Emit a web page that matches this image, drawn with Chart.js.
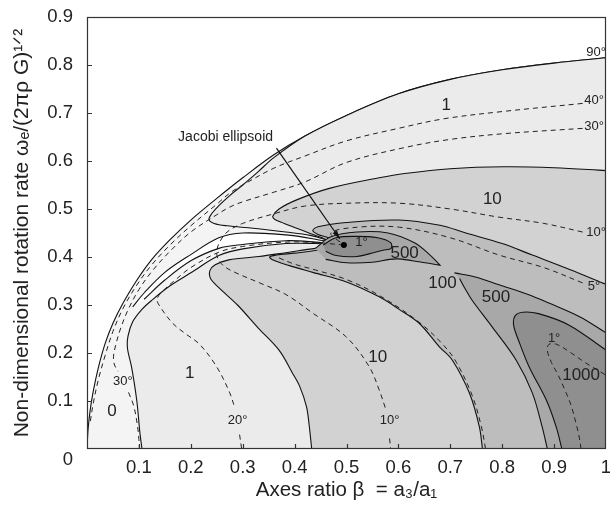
<!DOCTYPE html>
<html><head><meta charset="utf-8">
<script src="https://cdn.jsdelivr.net/npm/chart.js@4"></script>
<style>html,body{margin:0;padding:0;background:#fff}</style>
</head><body>
<canvas id="c" width="610" height="512"></canvas>
<script>
// ---------- data (beta = a3/a1, omega) ----------
const J = [0.495, 0.425];
const T = [0.088, 0.296];
const outerCurve = [[0,0],[0.002,0.04],[0.006,0.08],[0.012,0.12],[0.022,0.17],[0.035,0.22],[0.05,0.262],[0.07,0.305],[0.095,0.35],[0.125,0.395],[0.16,0.436],[0.2,0.477],[0.25,0.522],[0.3,0.565],[0.36,0.613],[0.42,0.652],[0.5,0.695],[0.6,0.74],[0.7,0.77],[0.8,0.79],[0.9,0.804],[1,0.815]];
const contour1Low = [[0.106,0],[0.106,0],[0.102,0.033],[0.096,0.1],[0.086,0.17],[0.078,0.21],[0.079,0.235],[0.088,0.265],[0.105,0.29],[0.125,0.31],[0.16,0.34],[0.2,0.367],[0.254,0.403],[0.3,0.417],[0.383,0.428],[0.44,0.428],J,J];
const contour1Up = [[0.46,0.436],[0.43,0.445],[0.383,0.452],[0.32,0.46],[0.27,0.465],[0.245,0.47],[0.235,0.478],[0.24,0.49],[0.255,0.508],[0.275,0.528],[0.3,0.55],[0.33,0.578],[0.36,0.607],[0.42,0.652],[0.5,0.695],[0.6,0.74],[0.7,0.77],[0.8,0.79],[0.9,0.804],[1,0.815],[1,0.815],[1,0],[1,0]];
const wedge = [T,T,[0.11,0.325],[0.15,0.368],[0.2,0.405],[0.254,0.44],[0.3,0.45],[0.383,0.446],[0.44,0.437],J,J,[0.44,0.431],[0.383,0.434],[0.3,0.426],[0.254,0.418],[0.2,0.392],[0.15,0.352],[0.11,0.312]];
const contour10Low = [[0.433,0],[0.433,0],[0.428,0.05],[0.423,0.088],[0.41,0.13],[0.396,0.158],[0.37,0.206],[0.33,0.252],[0.29,0.3],[0.255,0.335],[0.238,0.355],[0.237,0.372],[0.247,0.384],[0.273,0.394],[0.331,0.401],[0.383,0.409],[0.44,0.418],J,J];
const contour10Up = [[0.47,0.433],[0.45,0.441],[0.43,0.449],[0.404,0.46],[0.38,0.47],[0.362,0.478],[0.358,0.485],[0.37,0.5],[0.404,0.519],[0.467,0.543],[0.563,0.565],[0.612,0.574],[0.7,0.584],[0.804,0.588],[0.9,0.586],[1,0.58],[1,0.58],[1,0],[1,0]];
const contour100 = [[0.762,0],[0.762,0],[0.756,0.046],[0.737,0.116],[0.704,0.185],[0.679,0.213],[0.64,0.262],[0.6,0.292],[0.563,0.317],[0.5,0.348],[0.435,0.368],[0.39,0.382],[0.36,0.393],[0.352,0.4],[0.365,0.404],[0.4,0.408],[0.45,0.415],J,J,[0.465,0.44],[0.445,0.447],[0.435,0.455],[0.445,0.463],[0.5,0.472],[0.6,0.477],[0.68,0.466],[0.73,0.45],[0.8,0.428],[0.858,0.404],[0.93,0.374],[1,0.343],[1,0.343],[1,0],[1,0]];
const contour500a = [[0.44,0.418],[0.47,0.442],[0.52,0.452],[0.58,0.45],[0.63,0.43],[0.66,0.405],[0.68,0.383],[0.68,0.383],[0.64,0.39],[0.6,0.396],[0.583,0.395],[0.55,0.389],[0.5,0.388],[0.46,0.395]];
const contour1000a = [[0.455,0.425],[0.48,0.44],[0.52,0.443],[0.56,0.44],[0.585,0.43],[0.586,0.418],[0.57,0.414],[0.555,0.41],[0.52,0.401],[0.48,0.403],[0.46,0.412]];
const contour500b = [[0.708,0.367],[0.708,0.367],[0.75,0.358],[0.794,0.342],[0.85,0.322],[0.89,0.304],[0.95,0.275],[1,0.242],[1,0.242],[1,0],[1,0],[0.887,0],[0.887,0],[0.877,0.046],[0.858,0.117],[0.827,0.185],[0.781,0.254],[0.742,0.31],[0.728,0.335],[0.718,0.355]];
const contour1000b = [[0.915,0],[0.915,0],[0.904,0.046],[0.885,0.102],[0.852,0.171],[0.832,0.225],[0.822,0.258],[0.825,0.278],[0.84,0.285],[0.87,0.282],[0.929,0.258],[1,0.206],[1,0.206],[1,0],[1,0]];
// dashed angle contours
const angle40 = [[0.955,0.72],[0.8,0.703],[0.688,0.688],[0.6,0.668],[0.5,0.642],[0.419,0.61],[0.36,0.585],[0.3,0.55],[0.275,0.533],[0.25,0.51],[0.2,0.465],[0.16,0.425],[0.125,0.384],[0.095,0.34],[0.07,0.294],[0.05,0.245],[0.035,0.195],[0.022,0.145],[0.012,0.095],[0.006,0.055]];
const angle30a = [[0.955,0.668],[0.804,0.657],[0.7,0.645],[0.612,0.628],[0.5,0.597],[0.419,0.556],[0.36,0.535],[0.3,0.515],[0.275,0.504],[0.25,0.488],[0.2,0.452],[0.16,0.412],[0.125,0.37],[0.1,0.332],[0.08,0.292],[0.065,0.252],[0.055,0.215],[0.051,0.192],[0.053,0.175],[0.06,0.162]];
const angle30b = [[0.08,0.118],[0.09,0.09],[0.097,0.05],[0.1,0.02],[0.101,0]];
const angle20a = [J,[0.44,0.43],[0.383,0.431],[0.3,0.422],[0.254,0.41],[0.2,0.378],[0.17,0.352],[0.145,0.328],[0.135,0.312],[0.14,0.298],[0.165,0.262],[0.19,0.24],[0.217,0.218],[0.25,0.171],[0.275,0.117],[0.285,0.085]];
const angle20b = [[0.294,0.03],[0.298,0]];
const angle10a = [[0.955,0.452],[0.88,0.47],[0.794,0.483],[0.7,0.5],[0.602,0.512],[0.5,0.512],[0.419,0.506],[0.36,0.49],[0.3,0.47],[0.27,0.452],[0.255,0.43],[0.25,0.41],[0.253,0.395],[0.265,0.38],[0.287,0.367],[0.335,0.345],[0.383,0.322],[0.435,0.283],[0.5,0.233],[0.544,0.171],[0.563,0.123],[0.575,0.085]];
const angle10b = [[0.583,0.022],[0.585,0]];
const angle5a = [[0.955,0.346],[0.88,0.378],[0.794,0.404],[0.7,0.44],[0.602,0.462],[0.52,0.462],[0.47,0.45],J];
const angle5b = [[0.37,0.398],[0.4,0.385],[0.44,0.373],[0.5,0.353],[0.563,0.32],[0.64,0.264],[0.688,0.215],[0.712,0.18],[0.742,0.112],[0.76,0.046],[0.768,0]];
const angle1 = [[0.998,0.155],[0.96,0.18],[0.933,0.2],[0.905,0.218],[0.89,0.218],[0.887,0.205],[0.895,0.18],[0.906,0.158],[0.92,0.125],[0.933,0.09],[0.943,0.05],[0.948,0.027],[0.952,0]];
const arrowLine = [[0.365,0.627],[0.487,0.438]];
// labels
const regionLabels = [['0',0.048,0.079],['1',0.198,0.158],['10',0.56,0.19],['100',0.685,0.346],['500',0.788,0.315],['1000',0.952,0.154],['500',0.612,0.408],['10',0.781,0.52],['1',0.692,0.717]];
const angleLabels = [['90°',0.981,0.827],['40°',0.977,0.727],['30°',0.977,0.671],['10°',0.981,0.452],['5°',0.977,0.338],['1°',0.9,0.231],['1°',0.529,0.43],['20°',0.29,0.06],['10°',0.583,0.06],['30°',0.069,0.14]];
const xTickLabels = ['', '0.1','0.2','0.3','0.4','0.5','0.6','0.7','0.8','0.9','1'];
const yTickLabels = ['0','0.1','0.2','0.3','0.4','0.5','0.6','0.7','0.8','0.9'];

// ---------- colours ----------
const C0='#f4f4f4', C1='#ebebeb', C10='#d2d2d2', C100='#bdbdbd', C500='#a8a8a8', C1000='#8f8f8f';

const pts = a => a.map(p => ({x:p[0], y:p[1]}));
const paint = [];
function region(arr, color){ paint.push({data:pts(arr), showLine:true, fill:'shape', backgroundColor:color, borderColor:'#111', borderWidth:1.1, pointRadius:0, tension:0.35}); }
function dashed(arr){ paint.push({data:pts(arr), showLine:true, fill:false, borderColor:'#222', borderWidth:1, borderDash:[5,4], pointRadius:0, tension:0.35}); }
region([...outerCurve, [1,0.815],[1,0],[1,0]], C0);
region([...contour1Low, ...contour1Up], C1);
region(wedge, '#ffffff');
region([...contour10Low, ...contour10Up], C10);
region(contour100, C100);
region(contour500a, C500);
region(contour1000a, C1000);
region(contour500b, C500);
region(contour1000b, C1000);
[angle40, angle30a, angle30b, angle20a, angle20b, angle10a, angle10b, angle5a, angle5b, angle1].forEach(dashed);
paint.push({data:pts(arrowLine), showLine:true, fill:false, borderColor:'#111', borderWidth:1.2, pointRadius:0, tension:0});
paint.push({data:pts([J]), showLine:false, pointRadius:3, pointBackgroundColor:'#000', pointBorderWidth:0});
paint.forEach((d,i)=>{ d.order = paint.length - i; });

const FONT = 'Liberation Sans, Arial, sans-serif';
const overlay = {
  id:'overlay',
  afterDatasetsDraw(chart){
    const {ctx, chartArea:a, scales:{x,y}} = chart;
    ctx.save();
    // arrow head
    const x1=x.getPixelForValue(arrowLine[0][0]), y1=y.getPixelForValue(arrowLine[0][1]);
    const x2=x.getPixelForValue(arrowLine[1][0]), y2=y.getPixelForValue(arrowLine[1][1]);
    const ang=Math.atan2(y2-y1,x2-x1);
    ctx.fillStyle='#111';
    ctx.beginPath(); ctx.moveTo(x2,y2);
    ctx.lineTo(x2-9*Math.cos(ang-0.3), y2-9*Math.sin(ang-0.3));
    ctx.lineTo(x2-9*Math.cos(ang+0.3), y2-9*Math.sin(ang+0.3));
    ctx.closePath(); ctx.fill();
    // labels
    ctx.textAlign='center'; ctx.textBaseline='middle';
    ctx.fillStyle='#222';
    ctx.font='17px '+FONT;
    regionLabels.forEach(([t,b,w])=>ctx.fillText(t, x.getPixelForValue(b), y.getPixelForValue(w)));
    ctx.font='13px '+FONT;
    angleLabels.forEach(([t,b,w])=>ctx.fillText(t, x.getPixelForValue(b), y.getPixelForValue(w)));
    ctx.font='14px '+FONT;
    ctx.fillText('Jacobi ellipsoid', x.getPixelForValue(0.267), y.getPixelForValue(0.65));
    // box + inward ticks
    ctx.strokeStyle='#333'; ctx.lineWidth=1.2;
    ctx.strokeRect(a.left+0.5, a.top+0.5, a.right-a.left-1, a.bottom-a.top-1);
    ctx.beginPath();
    for(let i=1;i<=9;i++){ const px=Math.round(x.getPixelForValue(i/10))+0.5; ctx.moveTo(px,a.bottom); ctx.lineTo(px,a.bottom-5); }
    for(let i=1;i<=8;i++){ const py=Math.round(y.getPixelForValue(i/10))+0.5; ctx.moveTo(a.left,py); ctx.lineTo(a.left+5,py); }
    ctx.stroke();
    ctx.restore();
  }
};

new Chart(document.getElementById('c'), {
  type:'scatter',
  data:{datasets:paint},
  plugins:[overlay],
  options:{
    responsive:false, animation:false, devicePixelRatio:1,
    layout:{padding:{top:17,right:3,left:0,bottom:0}},
    plugins:{legend:{display:false}, tooltip:{enabled:false}},
    scales:{
      x:{type:'linear', min:0, max:1,
        grid:{display:false}, border:{display:false},
        ticks:{stepSize:0.1, padding:0, color:'#222', font:{family:FONT,size:18.5}, maxRotation:0,
          callback:v=>xTickLabels[Math.round(v*10)]},
        title:{display:true, text:'Axes ratio β  = a₃/a₁', color:'#222', font:{family:FONT,size:20.5}, padding:{top:2,bottom:9}},
        afterFit:s=>{s.height=63; s.paddingLeft=0; s.paddingRight=0;}
      },
      y:{type:'linear', min:0, max:0.9,
        grid:{display:false}, border:{display:false},
        ticks:{stepSize:0.1, padding:6, color:'#222', font:{family:FONT,size:18.5},
          callback:v=>{const i=Math.round(v*10); return i===0?['','0']:yTickLabels[i];}},
        title:{display:true, text:'Non-dimensional rotation rate ωₑ/(2πρ G)¹ᐟ²', color:'#222', font:{family:FONT,size:21}, padding:{top:10,bottom:2}},
        afterFit:s=>{s.width=87; s.paddingTop=0; s.paddingBottom=0;}
      }
    }
  }
});
</script>
</body></html>
